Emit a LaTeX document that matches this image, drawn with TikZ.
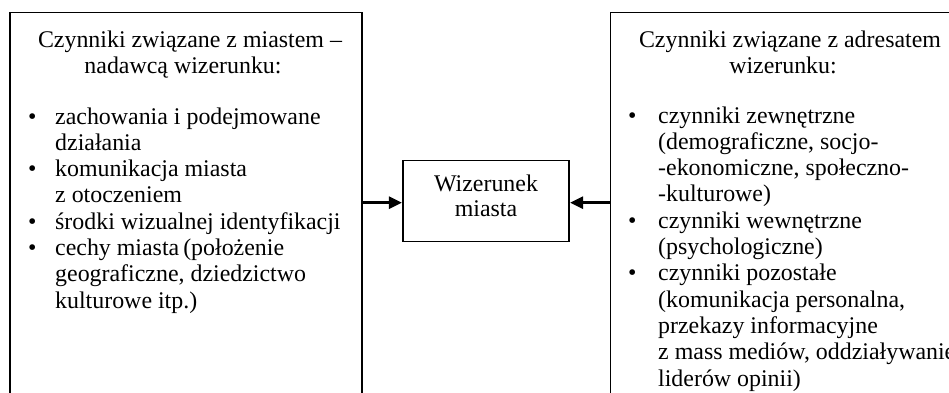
\documentclass[tikz,border=0pt]{standalone}
\usepackage{fontspec}
\setmainfont{Liberation Serif}
\usetikzlibrary{arrows.meta}

\newcommand{\txtsize}{\fontsize{23.9pt}{26.3pt}\selectfont}
\newcommand{\itm}[1]{\makebox[#1][l]{\textbullet}}

\tikzset{
  frame/.style={draw=black, line width=1.1pt},
  txt/.style={inner sep=0pt, anchor=base, font=\txtsize},
  listtxt/.style={inner sep=0pt, anchor=base west, font=\txtsize},
  link/.style={line width=2.8pt, -{Triangle[length=13pt,width=12pt]}, shorten >=0.5pt}
}

\begin{document}
\begin{tikzpicture}[x=1pt,y=-1pt]
  \clip (0,0) rectangle (949,392);
  \fill[white] (0,0) rectangle (949,392);

  % outer boxes, open at the bottom / right edge of the picture
  \draw[frame] (10,12.7) rectangle (362,410);
  \draw[frame] (610.7,12.7) rectangle (970,410);

  % central box
  \node[frame, minimum width=166pt, minimum height=81.5pt, inner sep=0pt] (core) at (486,200.9) {};
  \node[txt] (coretxt) at (486,191.7) {\parbox[t]{160pt}{\centering\fontsize{23.9pt}{25pt}\selectfont Wizerunek\\ miasta}};

  % left box contents
  \node[txt] (ltitle) at (190,47) {\parbox[t]{352pt}{\centering
    Czynniki związane z miastem –\\
    nadawcą wizerunku:\hspace*{14pt}}};
  \node[listtxt] (llist) at (27.8,124) {\parbox[t]{330pt}{\raggedright
    \itm{27.2pt}zachowania i podejmowane\\
    \hspace*{27.2pt}działania\\
    \itm{27.2pt}komunikacja miasta\\
    \hspace*{27.2pt}z otoczeniem\\
    \itm{27.2pt}środki wizualnej identyfikacji\\
    \itm{27.2pt}cechy miasta\,(położenie\\
    \hspace*{27.2pt}geograficzne, dziedzictwo\\
    \hspace*{27.2pt}kulturowe itp.)}};

  % right box contents
  \node[txt] (rtitle) at (790,47) {\parbox[t]{352pt}{\centering
    Czynniki związane z adresatem\\
    wizerunku:\hspace*{14pt}}};
  \node[listtxt] (rlist) at (627.8,123) {\parbox[t]{340pt}{\raggedright
    \itm{30.2pt}czynniki zewnętrzne\\
    \hspace*{30.2pt}(demograficzne, socjo-\\
    \hspace*{30.2pt}-ekonomiczne, społeczno-\\
    \hspace*{30.2pt}-kulturowe)\\
    \itm{30.2pt}czynniki wewnętrzne\\
    \hspace*{30.2pt}(psychologiczne)\\
    \itm{30.2pt}czynniki pozostałe\\
    \hspace*{30.2pt}(komunikacja personalna,\\
    \hspace*{30.2pt}przekazy informacyjne\\
    \hspace*{30.2pt}z mass mediów, oddziaływanie\\
    \hspace*{30.2pt}liderów opinii)}};

  % arrows from both sides into the central box
  \coordinate (lstart) at (362,202.7);
  \coordinate (rstart) at (610.7,202.7);
  \draw[link] (lstart) -- (core.west |- lstart);
  \draw[link] (rstart) -- (core.east |- rstart);
\end{tikzpicture}
\end{document}
